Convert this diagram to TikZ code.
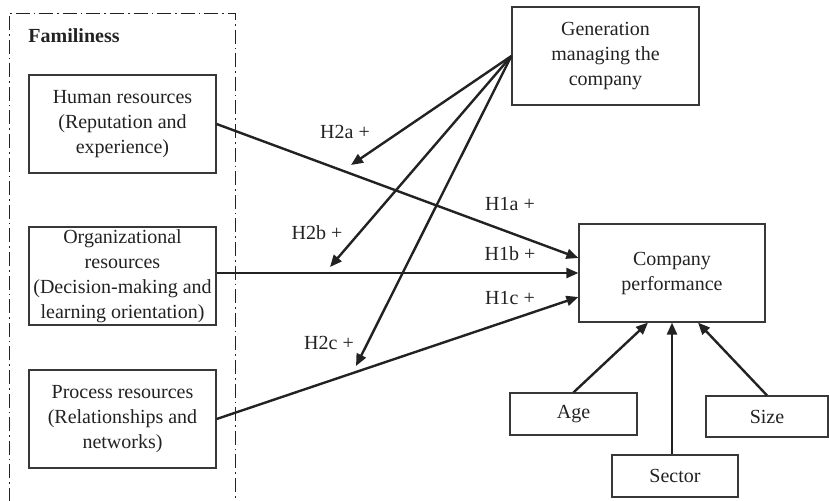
\documentclass[tikz,border=0pt]{standalone}
\usepackage{fontspec}
\setmainfont{Liberation Serif}
\usetikzlibrary{arrows.meta,calc}
\definecolor{ink}{HTML}{222222}
\begin{document}
\begin{tikzpicture}[x=0.5pt,y=-0.5pt,
  box/.style={draw=ink!90,line width=0.6pt,align=center,text=ink,inner sep=1pt,
    font=\fontsize{10}{12.5}\selectfont},
  arr/.style={line width=1.2pt,draw=ink,-{Triangle[length=6pt,width=5pt]}},
  lab/.style={text=ink,font=\fontsize{10}{12}\selectfont,inner sep=0pt},
  frame/.style={line width=0.5pt,draw=ink,dash pattern=on 7pt off 2pt on 0.8pt off 2pt}]
\useasboundingbox (0,0) rectangle (829,500);
\draw[frame] (9,502) -- (9,13) -- (235,13) -- (235,502);
\node[lab,font=\fontsize{10}{12}\selectfont\bfseries] (fam) at (74,36) {Familiness};
\node[box,minimum width=93.5pt,minimum height=49pt] (human) at (122.5,124) {Human resources\\(Reputation and\\experience)};
\node[box,minimum width=93.5pt,minimum height=49pt] (org) at (122.5,276) {Organizational\\resources\\(Decision-making and\\learning orientation)};
\node[box,minimum width=93.5pt,minimum height=49pt] (proc) at (122.5,419) {Process resources\\(Relationships and\\networks)};
\node[box,minimum width=93.5pt,minimum height=49pt] (gen) at (605.5,56) {Generation\\managing the\\company};
\node[box,minimum width=93pt,minimum height=49pt] (perf) at (672,273) {Company\\performance};
\node[box,minimum width=63.5pt,minimum height=21pt] (age) at (573.5,414) {Age};
\node[box,minimum width=61pt,minimum height=20.5pt] (size) at (767,416.5) {Size};
\node[box,minimum width=63pt,minimum height=21pt] (sector) at (675,476) {Sector};
\coordinate (t2a) at (351,165);
\coordinate (t2b) at (330,267);
\coordinate (t2c) at (356,366);
\draw[arr] (human.east) -- ($(perf.west)+(0,-15)$);
\draw[arr] (org.east |- perf.west) -- (perf.west);
\draw[arr] (proc.east) -- ($(perf.west)+(0,24)$);
\draw[arr] (gen.west) -- (t2a);
\draw[arr] (gen.west) -- (t2b);
\draw[arr] (gen.west) -- (t2c);
\draw[arr] (age.north) -- ($(perf.south)+(-24,0)$);
\draw[arr] (perf.south |- sector.north) -- (perf.south);
\draw[arr] (size.north) -- ($(perf.south)+(26,0)$);
\node[lab] (l2a) at (345,132) {H2a +};
\node[lab] (l1a) at (510,204) {H1a +};
\node[lab] (l2b) at (317,233) {H2b +};
\node[lab] (l1b) at (510,254) {H1b +};
\node[lab] (l1c) at (510,298) {H1c +};
\node[lab] (l2c) at (329,343) {H2c +};
\end{tikzpicture}
\end{document}
